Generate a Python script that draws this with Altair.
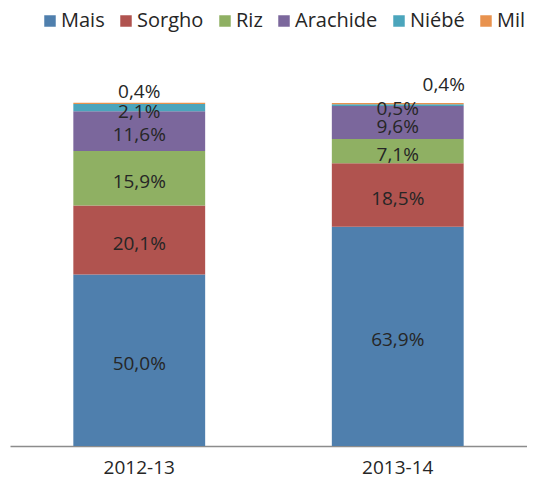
import altair as alt
import pandas as pd

categories = ["Mais", "Sorgho", "Riz", "Arachide", "Niébé", "Mil"]
years = ["2012-13", "2013-14"]
values_2012 = [50.0, 20.1, 15.9, 11.6, 2.1, 0.4]
values_2013 = [63.9, 18.5, 7.1, 9.6, 0.5, 0.4]
colors = ["#4F7FAD", "#B0534F", "#8FB063", "#7B679C", "#4BA5BC", "#E8924E"]

rows = []
for year, vals in zip(years, [values_2012, values_2013]):
    for i, (c, v) in enumerate(zip(categories, vals)):
        rows.append({"year": year, "crop": c, "value": v, "order": i})
df = pd.DataFrame(rows)

FONT = "Open Sans"
TXT = "#262626"
FS = 19

base = alt.Chart(df).transform_stack(
    stack="value", groupby=["year"], as_=["y0", "y1"],
    sort=[alt.SortField(field="order", order="ascending")]
).transform_calculate(
    mid="(datum.y0 + datum.y1) / 2",
    label="replace(format(datum.value, '.1f'), '.', ',') + '%'"
)

xenc = alt.X(
    "year:N", sort=years,
    scale=alt.Scale(paddingInner=0.49, paddingOuter=0.245),
    axis=alt.Axis(title=None, labelAngle=0, ticks=False, labelFontSize=FS,
                  labelFont=FONT, labelColor=TXT, labelPadding=12,
                  domainColor="#8c8c8c", domainWidth=1.5),
)
xplain = alt.X("year:N", sort=years)
yscale = alt.Scale(domain=[0, 100], nice=False)

bars = base.mark_bar().encode(
    x=xenc,
    y=alt.Y("y0:Q", scale=yscale, axis=None),
    y2="y1:Q",
    color=alt.Color(
        "crop:N", sort=categories,
        scale=alt.Scale(domain=categories, range=colors),
        legend=alt.Legend(
            orient="none", legendX=30, legendY=-92, direction="horizontal",
            title=None, symbolType="square", symbolSize=132,
            symbolStrokeWidth=0, labelFontSize=20, labelFont=FONT,
            labelColor=TXT, columnPadding=11, labelOffset=1,
        ),
    ),
)

labels = base.transform_filter("datum.crop != 'Mil'").mark_text(
    fontSize=FS, font=FONT, color=TXT, dy=4
).encode(x=xplain, y=alt.Y("mid:Q", scale=yscale), text="label:N")

mil1 = base.transform_filter("datum.crop == 'Mil' && datum.year == '2012-13'").mark_text(
    fontSize=FS, font=FONT, color=TXT, dy=-11
).encode(x=xplain, y=alt.Y("y1:Q", scale=yscale), text="label:N")

mil2 = base.transform_filter("datum.crop == 'Mil' && datum.year == '2013-14'").mark_text(
    fontSize=FS, font=FONT, color=TXT, dy=-18, dx=46
).encode(x=xplain, y=alt.Y("y1:Q", scale=yscale), text="label:N")

chart = alt.layer(bars, labels, mil1, mil2).properties(
    width=517, height=343,
    autosize=alt.AutoSizeParams(type="none"),
    padding={"left": 2, "top": 95, "right": 0, "bottom": 30},
).configure_view(stroke=None)

chart.save("out.html", embed_options={"renderer": "svg", "actions": False})
